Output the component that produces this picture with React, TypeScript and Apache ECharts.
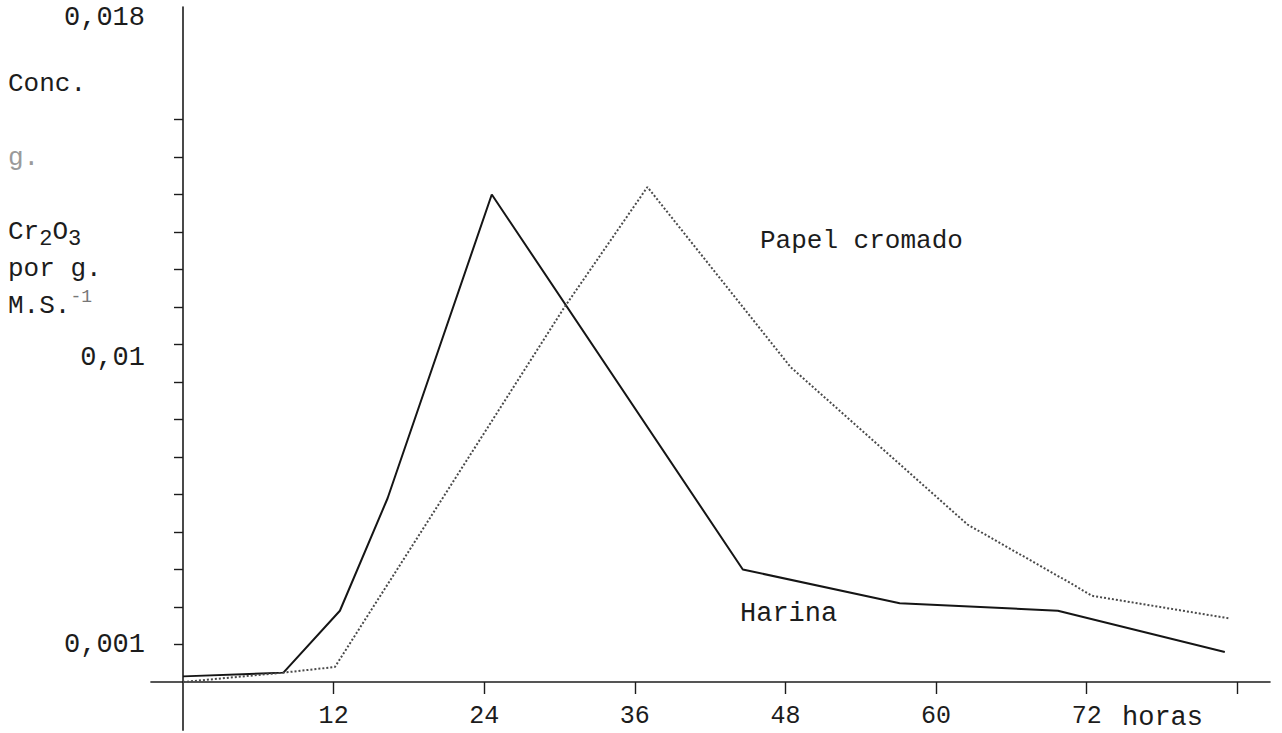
import React, { useEffect, useRef } from 'react';
import * as echarts from 'echarts';

// Harina (solid line)
const harinaHours = [0, 8, 12.5, 16.3, 24.6, 44.6, 57.1, 69.7, 83.0];
const harinaConc = [0.00015, 0.00025, 0.0019, 0.0049, 0.013, 0.003, 0.0021, 0.0019, 0.0008];

// Papel cromado (dotted line)
const papelHours = [0, 8, 12.1, 30.4, 37.0, 48.4, 62.5, 70.9, 72.4, 83.3];
const papelConc = [0, 0.00025, 0.0004, 0.01, 0.0132, 0.0084, 0.0042, 0.0026, 0.0023, 0.0017];

// Axis ticks and labels
const xTickValues = [12, 24, 36, 48, 60, 72, 84];
const xLabelValues = [12, 24, 36, 48, 60, 72];
const yTickValues = [1, 2, 3, 4, 5, 6, 7, 8, 9, 10, 11, 12, 13, 14, 15].map((k) => Number((k * 0.001).toFixed(3)));
const yLabelValues = [0.001, 0.01, 0.018];
const yLabelTexts = ['0,001', '0,01', '0,018'];
const yLabelStyles = ['n', 'lo', 'hi'];

// how far the hand-drawn axis lines run past the origin (in axis units)
const xAxisOvershoot = -2.6;
const yAxisOvershoot = -0.0013;

const INK = '#1c1c1c';
const MONO = '"Liberation Mono", "DejaVu Sans Mono", monospace';

const seriesLabels = [
  { text: 'Papel cromado', left: 760, top: 228, size: 26 },
  { text: 'Harina', left: 740, top: 600, size: 27 },
];

export default function App() {
  const ref = useRef<HTMLDivElement>(null);
  useEffect(() => {
    const chart = echarts.init(ref.current!, null, { renderer: 'svg' });
    const labelGraphics = seriesLabels.map((l) => ({
      type: 'text',
      left: l.left,
      top: l.top,
      style: { text: l.text, fill: INK, font: l.size + 'px ' + MONO },
    }));
    chart.setOption({
      animation: false,
      backgroundColor: '#ffffff',
      grid: { left: 183, right: 12, top: 7, bottom: 51, containLabel: false, outerBoundsMode: 'none' },
      xAxis: {
        type: 'value',
        min: 0,
        max: 86.6,
        splitLine: { show: false },
        axisLine: { onZero: false, lineStyle: { color: INK, width: 1.6 } },
        axisTick: { show: true, inside: false, length: 12, customValues: xTickValues, lineStyle: { color: INK, width: 1.4 } },
        axisLabel: {
          customValues: xLabelValues,
          margin: 22,
          color: INK,
          fontFamily: MONO,
          fontSize: 25,
          formatter: (v: number) => String(v),
        },
        name: 'horas',
        nameLocation: 'end',
        nameGap: -148,
        nameMoveOverlap: false,
        nameTextStyle: {
          color: INK,
          fontFamily: MONO,
          fontSize: 27,
          align: 'left',
          verticalAlign: 'top',
          padding: [22, 0, 0, 0],
        },
      },
      yAxis: {
        type: 'value',
        min: 0,
        max: 0.018,
        splitLine: { show: false },
        axisLine: { onZero: false, lineStyle: { color: INK, width: 1.6 } },
        axisTick: { show: true, inside: false, length: 9, customValues: yTickValues, lineStyle: { color: INK, width: 1.4 } },
        axisLabel: {
          customValues: yLabelValues,
          margin: 38,
          color: INK,
          fontFamily: MONO,
          fontSize: 27,
          formatter: (v: number) => {
            const i = yLabelValues.findIndex((x) => Math.abs(x - v) < 1e-9);
            if (i < 0) return '';
            return '{' + yLabelStyles[i] + '|' + yLabelTexts[i] + '}';
          },
          rich: {
            n: { fontFamily: MONO, fontSize: 27, color: INK },
            lo: { fontFamily: MONO, fontSize: 27, color: INK, padding: [102, 0, 0, 0] },
            hi: { fontFamily: MONO, fontSize: 27, color: INK, padding: [22, 0, 0, 0] },
          },
        },
        name: 'Conc.\n\n{g|g.}\n\nCr{sub|2}O{sub|3}\npor g.\nM.S.{sup|-1}',
        nameLocation: 'middle',
        nameRotate: 0,
        nameGap: 175,
        nameMoveOverlap: false,
        nameTextStyle: {
          color: INK,
          fontFamily: MONO,
          fontSize: 26,
          lineHeight: 37,
          align: 'left',
          verticalAlign: 'bottom',
          padding: [0, 0, 20, 0],
          rich: {
            g: { color: '#9a9a9a', fontFamily: MONO, fontSize: 26, lineHeight: 37 },
            sub: { color: INK, fontFamily: MONO, fontSize: 22, lineHeight: 14, verticalAlign: 'bottom' },
            sup: { color: '#777', fontFamily: MONO, fontSize: 18, lineHeight: 14, verticalAlign: 'top' },
          },
        },
      },
      series: [
        {
          name: 'Harina',
          type: 'line',
          data: harinaHours.map((h, i) => [h, harinaConc[i]]),
          showSymbol: false,
          symbol: 'none',
          lineStyle: { color: '#151515', width: 2 },
        },
        {
          name: 'Papel cromado',
          type: 'line',
          data: papelHours.map((h, i) => [h, papelConc[i]]),
          showSymbol: false,
          symbol: 'none',
          lineStyle: { color: '#4a4a4a', width: 2, type: [2, 2] },
        },
      ],
      graphic: labelGraphics,
    });

    // extend the axis lines a little past the origin, as in the hand-drawn original
    const origin = chart.convertToPixel({ gridIndex: 0 }, [0, 0]) as number[];
    const xStart = chart.convertToPixel({ gridIndex: 0 }, [xAxisOvershoot, 0]) as number[];
    const yStart = chart.convertToPixel({ gridIndex: 0 }, [0, yAxisOvershoot]) as number[];
    chart.setOption({
      graphic: [
        ...labelGraphics,
        {
          type: 'line',
          shape: { x1: xStart[0], y1: origin[1], x2: origin[0], y2: origin[1] },
          style: { stroke: INK, lineWidth: 1.6 },
        },
        {
          type: 'line',
          shape: { x1: origin[0], y1: origin[1], x2: origin[0], y2: yStart[1] },
          style: { stroke: INK, lineWidth: 1.6 },
        },
      ],
    });
    return () => chart.dispose();
  }, []);
  return (
    <div
      ref={ref}
      style={{ position: 'absolute', left: 0, top: 0, width: 1282, height: 733, background: '#ffffff' }}
    />
  );
}
